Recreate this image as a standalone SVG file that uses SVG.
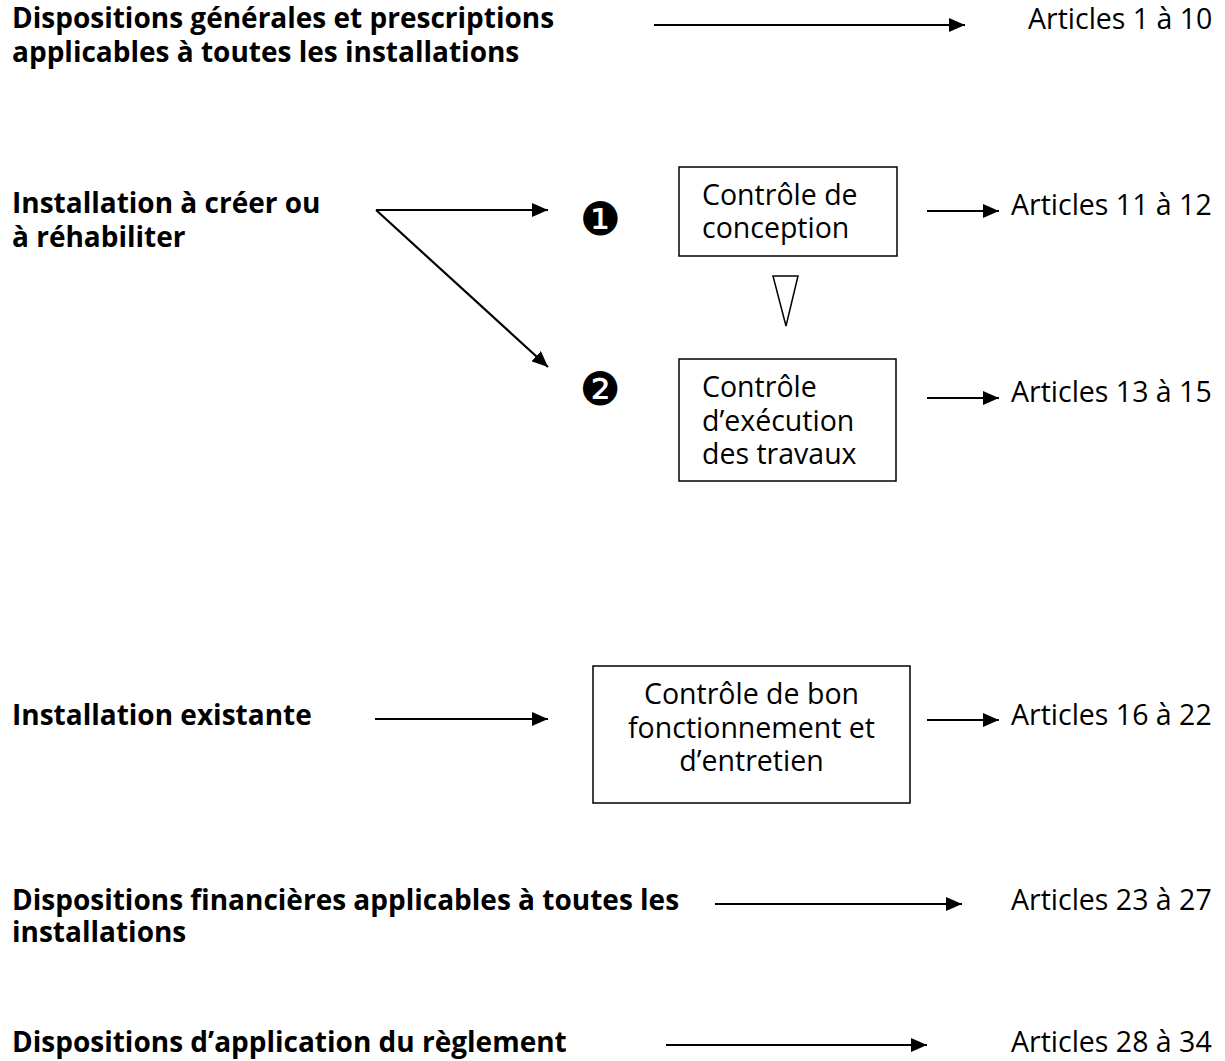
<svg xmlns="http://www.w3.org/2000/svg" width="1225" height="1061" viewBox="0 0 1225 1061">
  <style>
    text { font-family: "Open Sans", "Noto Sans", "DejaVu Sans", sans-serif; font-size: 28.5px; fill: #000; }
    .b { font-weight: bold; font-size: 28px; }
    .num { font-family: "DejaVu Sans", sans-serif; font-size: 46px; }
    .box { fill: #fff; stroke: #000; stroke-width: 1.5; }
    .conn line { stroke: #000; stroke-width: 2.2; marker-end: url(#ah); }
  </style>
  <defs>
    <marker id="ah" markerUnits="userSpaceOnUse" markerWidth="16" markerHeight="14" refX="16" refY="7" orient="auto">
      <path d="M0,0 L16,7 L0,14 Z" fill="#000"/>
    </marker>
  </defs>
  <rect width="1225" height="1061" fill="#fff"/>

  <g id="n-general">
    <text class="b" x="12" y="28">Dispositions générales et prescriptions</text>
    <text class="b" x="12" y="62">applicables à toutes les installations</text>
  </g>
  <g id="n-art1"><text x="1028" y="29">Articles 1 à 10</text></g>

  <g id="n-creer">
    <text class="b" x="12" y="213">Installation à créer ou</text>
    <text class="b" x="12" y="247">à réhabiliter</text>
  </g>
  <g id="n-one"><text class="num" x="600" y="235" text-anchor="middle">❶</text></g>
  <g id="n-two"><text class="num" x="600" y="405" text-anchor="middle">❷</text></g>

  <g id="n-conception">
    <rect class="box" x="679" y="167" width="218" height="89"/>
    <text x="702" y="205">Contrôle de</text>
    <text x="702" y="238">conception</text>
  </g>
  <g id="n-seq">
    <path d="M773,276 L798,276 L786,326 Z" fill="#fff" stroke="#000" stroke-width="1.5" stroke-linejoin="miter"/>
  </g>
  <g id="n-execution">
    <rect class="box" x="679" y="359" width="217" height="122"/>
    <text x="702" y="397">Contrôle</text>
    <text x="702" y="431">d’exécution</text>
    <text x="702" y="464">des travaux</text>
  </g>
  <g id="n-art11"><text x="1011" y="215">Articles 11 à 12</text></g>
  <g id="n-art13"><text x="1011" y="402">Articles 13 à 15</text></g>

  <g id="n-existante"><text class="b" x="12" y="725">Installation existante</text></g>
  <g id="n-bon">
    <rect class="box" x="593" y="666" width="317" height="137"/>
    <text x="751.5" y="704" text-anchor="middle">Contrôle de bon</text>
    <text x="751.5" y="738" text-anchor="middle">fonctionnement et</text>
    <text x="751.5" y="771" text-anchor="middle">d’entretien</text>
  </g>
  <g id="n-art16"><text x="1011" y="725">Articles 16 à 22</text></g>

  <g id="n-financieres">
    <text class="b" x="12" y="910">Dispositions financières applicables à toutes les</text>
    <text class="b" x="12" y="942">installations</text>
  </g>
  <g id="n-art23"><text x="1011" y="910">Articles 23 à 27</text></g>

  <g id="n-application"><text class="b" x="12" y="1052">Dispositions d’application du règlement</text></g>
  <g id="n-art28"><text x="1011" y="1052">Articles 28 à 34</text></g>

  <g id="connectors" class="conn">
    <line x1="654" y1="25" x2="965" y2="25"/>
    <line x1="376" y1="210" x2="548" y2="210"/>
    <line x1="376" y1="210" x2="548" y2="367"/>
    <line x1="927" y1="211" x2="999" y2="211"/>
    <line x1="927" y1="398" x2="999" y2="398"/>
    <line x1="375" y1="719" x2="548" y2="719"/>
    <line x1="927" y1="720" x2="999" y2="720"/>
    <line x1="715" y1="904" x2="962" y2="904"/>
    <line x1="666" y1="1045" x2="927" y2="1045"/>
  </g>
</svg>
